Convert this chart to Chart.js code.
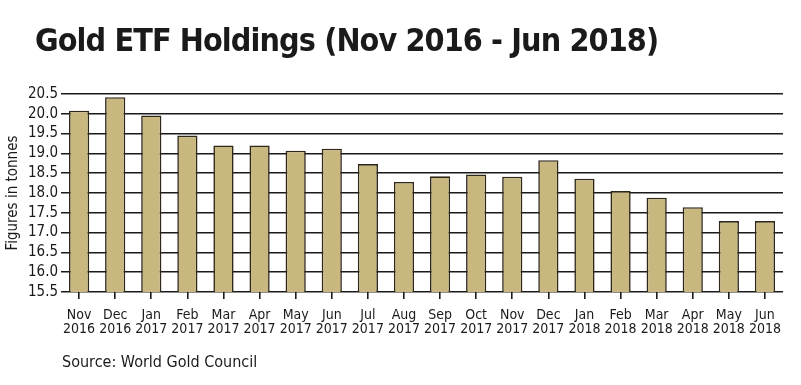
<!DOCTYPE html>
<html>
<head>
<meta charset="utf-8">
<script src="https://cdn.jsdelivr.net/npm/chart.js@4.4.1/dist/chart.umd.min.js"></script>
<style>
  html, body { margin: 0; padding: 0; background: #fff; }
  #wrap { position: relative; width: 801px; height: 385px; }
  #wrap canvas { position: absolute; left: 0; top: 0; }
  .ttl {
    position: absolute; left: 35px; top: 24px; margin: 0;
    font: bold 32px/32px 'DejaVu Sans Condensed', 'DejaVu Sans', sans-serif;
    letter-spacing: -0.9px; color: #1a1a1a; white-space: nowrap;
  }
  .src {
    position: absolute; left: 62px; top: 354px; margin: 0;
    font: 16px/16px 'DejaVu Sans Condensed', 'DejaVu Sans', sans-serif;
    color: #1a1a1a; white-space: nowrap;
  }
</style>
</head>
<body>
<div id="wrap">
  <canvas id="myChart" width="801" height="385"></canvas>
  <div class="ttl">Gold ETF Holdings (Nov 2016 - Jun 2018)</div>
  <div class="src">Source: World Gold Council</div>
</div>
<script>
// months, two lines each
const months = [
  ['Nov', '2016'], ['Dec', '2016'], ['Jan', '2017'], ['Feb', '2017'], ['Mar', '2017'],
  ['Apr', '2017'], ['May', '2017'], ['Jun', '2017'], ['Jul', '2017'], ['Aug', '2017'],
  ['Sep', '2017'], ['Oct', '2017'], ['Nov', '2017'], ['Dec', '2017'], ['Jan', '2018'],
  ['Feb', '2018'], ['Mar', '2018'], ['Apr', '2018'], ['May', '2018'], ['Jun', '2018']
];
// tonnes
const holdings = [
  20.08, 20.42, 19.96, 19.45, 19.2, 19.2, 19.07, 19.12, 18.73, 18.28,
  18.42, 18.47, 18.41, 18.83, 18.36, 18.05, 17.88, 17.64, 17.29, 17.29
];
const yMin = 15.5, yMax = 20.5, yStep = 0.5;

const narrow = "'DejaVu Sans Condensed', 'DejaVu Sans', sans-serif";

const ctx = document.getElementById('myChart');
const myChart = new Chart(ctx, {
  type: 'bar',
  data: {
    labels: months,
    datasets: [{
      data: holdings,
      backgroundColor: '#c8b87f',
      borderColor: '#2e271a',
      borderWidth: 1.6,
      borderSkipped: 'bottom',
      barPercentage: 0.56,
      categoryPercentage: 1
    }]
  },
  options: {
    responsive: false,
    animation: false,
    layout: { padding: { left: 4, right: 18, top: 94, bottom: 40 } },
    plugins: {
      legend: { display: false },
      tooltip: { enabled: false }
    },
    scales: {
      x: {
        grid: {
          offset: false,
          drawOnChartArea: false,
          drawTicks: true,
          tickLength: 7,
          color: '#1a1a1a',
          lineWidth: 1.6
        },
        border: { display: false },
        ticks: {
          color: '#1a1a1a',
          font: { family: narrow, size: 14, lineHeight: 1.0 },
          maxRotation: 0,
          autoSkip: false,
          padding: 9
        }
      },
      y: {
        min: yMin,
        max: yMax,
        grid: { color: '#1a1a1a', lineWidth: 1.6, drawTicks: false },
        border: { display: false },
        ticks: {
          stepSize: yStep,
          autoSkip: false,
          color: '#1a1a1a',
          font: { family: narrow, size: 15 },
          padding: 3,
          callback: v => v.toFixed(1)
        },
        title: {
          display: true,
          text: 'Figures in tonnes',
          color: '#1a1a1a',
          font: { family: narrow, size: 15 },
          padding: { top: 0, bottom: 3 }
        }
      }
    }
  }
});
</script>
</body>
</html>
